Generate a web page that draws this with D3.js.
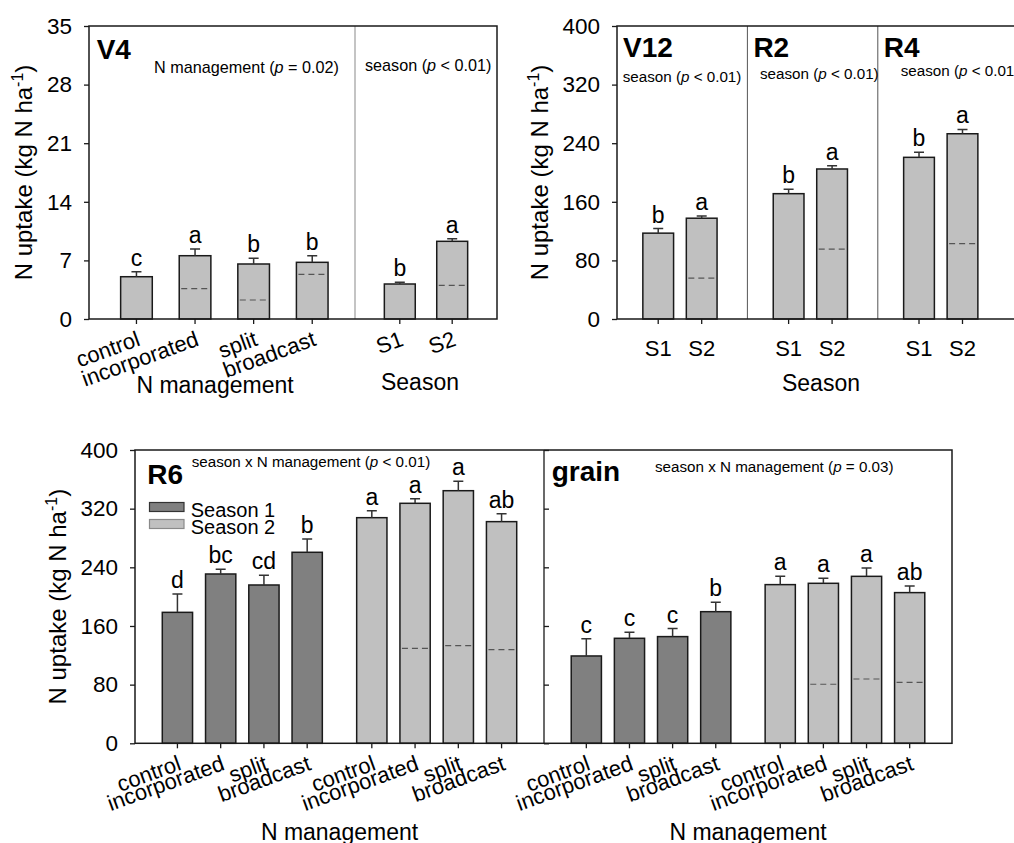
<!DOCTYPE html>
<html>
<head>
<meta charset="utf-8">
<script src="https://cdn.jsdelivr.net/npm/d3@7"></script>
<style>
  body { margin: 0; background: #fff; }
  svg { display: block; font-family: "Liberation Sans", Arial, sans-serif; }
</style>
</head>
<body>
<svg id="chart" width="1014" height="843"></svg>
<script>
// treatments
const mgmt = ['control', 'incorporated', 'split', 'broadcast'];
const seasons = ['S1', 'S2'];

// V4 (kg N ha-1), main effects
const v4Mgmt = [5.05, 7.56, 6.57, 6.77];
const v4MgmtErr = [0.6, 0.8, 0.68, 0.79];
const v4MgmtRef = [null, 3.62, 2.27, 5.34];
const v4MgmtLetters = ['c', 'a', 'b', 'b'];
const v4Season = [4.18, 9.28];
const v4SeasonErr = [0.2, 0.31];
const v4SeasonRef = [null, 4.02];
const v4SeasonLetters = ['b', 'a'];

// V12, R2, R4 season effect
const stages = ['V12', 'R2', 'R4'];
const stageS1 = [117.2, 171.1, 220.7];
const stageS1Err = [6.2, 6.0, 6.8];
const stageS2 = [137.6, 204.8, 252.9];
const stageS2Err = [3.1, 4.5, 5.9];
const stageS2Ref = [55.9, 95.4, 103];
const stageLetters = ['b', 'a'];

// R6, season x N management
const r6S1 = [178.6, 230.9, 215.9, 260.5];
const r6S1Err = [25, 6.4, 13.2, 18.1];
const r6S1Letters = ['d', 'bc', 'cd', 'b'];
const r6S2 = [307.7, 327.3, 344.5, 302.3];
const r6S2Err = [9.6, 6.3, 12.8, 10.9];
const r6S2Ref = [null, 129.5, 133.2, 127.7];
const r6S2Letters = ['a', 'a', 'a', 'ab'];

// grain, season x N management
const grS1 = [119.1, 143.2, 145.5, 179.5];
const grS1Err = [23.6, 8.2, 10.9, 12.8];
const grS1Letters = ['c', 'c', 'c', 'b'];
const grS2 = [216.4, 218.2, 227.7, 205.5];
const grS2Err = [11.3, 6.8, 11.4, 9];
const grS2Ref = [null, 80.5, 87.7, 83.2];
const grS2Letters = ['a', 'a', 'a', 'ab'];

const v4Ticks = [0, 7, 14, 21, 28, 35];
const bigTicks = [0, 80, 160, 240, 320, 400];

const S1_FILL = '#808080';
const S2_FILL = '#c0c0c0';
const none = [null, null, null, null];

const svg = d3.select('#chart');

function drawBars(g, keys, x, y, vals, errs, refs, letters, fill) {
  const d = keys.map((k, i) => ({ k, v: vals[i], e: errs[i], r: refs[i], l: letters[i] }));
  const cx = p => x(p.k) + x.bandwidth() / 2;
  g.selectAll(null).data(d).enter().append('rect')
    .attr('x', p => x(p.k))
    .attr('y', p => y(p.v))
    .attr('width', x.bandwidth())
    .attr('height', p => y(0) - y(p.v))
    .attr('fill', fill)
    .attr('stroke', '#1a1a1a')
    .attr('stroke-width', 1.5);
  g.selectAll(null).data(d.filter(p => p.r != null)).enter().append('line')
    .attr('x1', p => x(p.k) + 2)
    .attr('x2', p => x(p.k) + x.bandwidth() - 2)
    .attr('y1', p => y(p.r))
    .attr('y2', p => y(p.r))
    .attr('stroke', '#555')
    .attr('stroke-width', 1.2)
    .attr('stroke-dasharray', '6,4');
  g.selectAll(null).data(d).enter().append('path')
    .attr('d', p => `M${cx(p)},${y(p.v)}V${y(p.v + p.e)}M${cx(p) - 5},${y(p.v + p.e)}H${cx(p) + 5}`)
    .attr('fill', 'none')
    .attr('stroke', '#333')
    .attr('stroke-width', 1.5);
  g.selectAll(null).data(d).enter().append('text')
    .attr('x', cx)
    .attr('y', p => y(p.v + p.e) - 6)
    .attr('text-anchor', 'middle')
    .style('font-size', '23px')
    .text(p => p.l);
}

function yAxis(g, y, ticks, x0) {
  const ax = g.append('g')
    .attr('transform', `translate(${x0},0)`)
    .call(d3.axisLeft(y).tickValues(ticks).tickSize(5).tickPadding(12))
    .attr('font-family', null).attr('font-size', null);
  ax.select('.domain').remove();
  ax.selectAll('line').attr('stroke', '#1a1a1a').attr('stroke-width', 1.3);
  ax.selectAll('text').attr('fill', '#000').style('font-size', '22.5px');
}

// x axis with tilted labels
function xAxisTilt(g, x, y0) {
  const ax = g.append('g')
    .attr('transform', `translate(0,${y0})`)
    .call(d3.axisBottom(x).tickSize(5).tickSizeOuter(0))
    .attr('font-family', null).attr('font-size', null);
  ax.select('.domain').remove();
  ax.selectAll('line').attr('stroke', '#1a1a1a').attr('stroke-width', 1.3);
  ax.selectAll('text')
    .attr('y', 0).attr('dy', null)
    .attr('text-anchor', 'end')
    .attr('transform', 'translate(5,26) rotate(-20)')
    .attr('fill', '#000')
    .style('font-size', '22px');
}

function xAxisFlat(g, x, y0) {
  const ax = g.append('g')
    .attr('transform', `translate(0,${y0})`)
    .call(d3.axisBottom(x).tickSize(5).tickSizeOuter(0).tickPadding(16))
    .attr('font-family', null).attr('font-size', null);
  ax.select('.domain').remove();
  ax.selectAll('line').attr('stroke', '#1a1a1a').attr('stroke-width', 1.3);
  ax.selectAll('text').attr('fill', '#000').style('font-size', '22px');
}

function yTitle(x, yc) {
  const t = svg.append('text')
    .attr('transform', `translate(${x},${yc}) rotate(-90)`)
    .attr('text-anchor', 'middle')
    .style('font-size', '24px');
  t.append('tspan').text('N uptake (kg N ha');
  t.append('tspan').attr('dy', -9).style('font-size', '16px').text('-1');
  t.append('tspan').attr('dy', 9).text(')');
}

function label(x, y, txt, size, bold, anchor) {
  return svg.append('text')
    .attr('x', x).attr('y', y)
    .attr('text-anchor', anchor || 'start')
    .style('font-size', size + 'px')
    .style('font-weight', bold ? 'bold' : 'normal')
    .text(txt);
}

function stat(x, y, pre, rel, size) {
  const t = svg.append('text').attr('x', x).attr('y', y).style('font-size', (size || 15.2) + 'px');
  t.append('tspan').text(pre + ' (');
  t.append('tspan').style('font-style', 'italic').text('p');
  t.append('tspan').text(' ' + rel + ')');
}

// ---------- V4 panel ----------
const v4 = { l: 89, r: 497, t: 26, b: 319, mid: 355 };
const yV4 = d3.scaleLinear().domain([0, 35]).range([v4.b, v4.t]);
const xV4a = d3.scaleBand().domain(mgmt).range([v4.l, v4.mid]).paddingInner(0.46).paddingOuter(0.5).align(0.54);
const xV4b = d3.scaleBand().domain(seasons).range([v4.mid, v4.r]).paddingInner(0.41).paddingOuter(0.56);

svg.append('line').attr('x1', v4.mid).attr('x2', v4.mid).attr('y1', v4.t).attr('y2', v4.b)
  .attr('stroke', '#b0b0b0').attr('stroke-width', 1.5);
drawBars(svg, mgmt, xV4a, yV4, v4Mgmt, v4MgmtErr, v4MgmtRef, v4MgmtLetters, S2_FILL);
drawBars(svg, seasons, xV4b, yV4, v4Season, v4SeasonErr, v4SeasonRef, v4SeasonLetters, S2_FILL);
svg.append('rect').attr('x', v4.l).attr('y', v4.t).attr('width', v4.r - v4.l).attr('height', v4.b - v4.t)
  .attr('fill', 'none').attr('stroke', '#1a1a1a').attr('stroke-width', 1.5);
yAxis(svg, yV4, v4Ticks, v4.l);
xAxisTilt(svg, xV4a, v4.b);
xAxisTilt(svg, xV4b, v4.b);
yTitle(32, (v4.t + v4.b) / 2);
label(96.7, 59, 'V4', 28, true);
stat(154, 73, 'N management', '= 0.02', 16.2);
stat(365, 71, 'season', '< 0.01', 16.2);
label(215, 393, 'N management', 23, false, 'middle');
label(420, 390, 'Season', 23, false, 'middle');

// ---------- V12 / R2 / R4 panel ----------
const tr = { l: 617, t: 26, b: 319, w: 130.4 };
const yTR = d3.scaleLinear().domain([0, 400]).range([tr.b, tr.t]);
const xStage = d3.scaleBand().domain(stages).range([tr.l, tr.l + 3 * tr.w]);
stages.forEach((s, i) => {
  const x0 = xStage(s);
  const xs = d3.scaleBand().domain(seasons).range([x0, x0 + tr.w]).paddingInner(0.293).paddingOuter(0.646).align(0.46);
  if (i > 0) {
    svg.append('line').attr('x1', x0).attr('x2', x0).attr('y1', tr.t).attr('y2', tr.b)
      .attr('stroke', '#555').attr('stroke-width', 1);
  }
  drawBars(svg, seasons, xs, yTR, [stageS1[i], stageS2[i]], [stageS1Err[i], stageS2Err[i]],
    [null, stageS2Ref[i]], stageLetters, S2_FILL);
  xAxisFlat(svg, xs, tr.b);
  label(x0 + 6, 56.7, s, 28, true);
});
svg.append('path').attr('d', `M1016,${tr.t}H${tr.l}V${tr.b}H1016`)
  .attr('fill', 'none').attr('stroke', '#1a1a1a').attr('stroke-width', 1.5);
yAxis(svg, yTR, bigTicks, tr.l);
yTitle(548, (tr.t + tr.b) / 2);
stat(622.7, 81.7, 'season', '< 0.01');
stat(760, 79, 'season', '< 0.01');
stat(900.7, 76, 'season', '< 0.01');
label(821, 391, 'Season', 23, false, 'middle');

// ---------- R6 and grain panels ----------
const bp = { l: 135, mid: 544, r: 952, t: 450, b: 743.3 };
const yB = d3.scaleLinear().domain([0, 400]).range([bp.b, bp.t]);

function groupedPanel(x0, x1, s1, s1e, s1l, s2, s2e, s2r, s2l) {
  const xg = d3.scaleBand().domain(seasons).range([x0, x1]).paddingInner(0.11).paddingOuter(0.107);
  const xm = d3.scaleBand().domain(mgmt).range([0, xg.bandwidth()]).paddingInner(0.3).paddingOuter(0.15);
  const g1 = svg.append('g').attr('transform', `translate(${xg('S1')},0)`);
  const g2 = svg.append('g').attr('transform', `translate(${xg('S2')},0)`);
  drawBars(g1, mgmt, xm, yB, s1, s1e, none, s1l, S1_FILL);
  drawBars(g2, mgmt, xm, yB, s2, s2e, s2r, s2l, S2_FILL);
  xAxisTilt(g1, xm, bp.b);
  xAxisTilt(g2, xm, bp.b);
  label((x0 + x1) / 2, 840, 'N management', 23, false, 'middle');
}

groupedPanel(bp.l, bp.mid, r6S1, r6S1Err, r6S1Letters, r6S2, r6S2Err, r6S2Ref, r6S2Letters);
groupedPanel(bp.mid, bp.r, grS1, grS1Err, grS1Letters, grS2, grS2Err, grS2Ref, grS2Letters);

svg.append('rect').attr('x', bp.l).attr('y', bp.t).attr('width', bp.r - bp.l).attr('height', bp.b - bp.t)
  .attr('fill', 'none').attr('stroke', '#1a1a1a').attr('stroke-width', 1.5);
svg.append('line').attr('x1', bp.mid).attr('x2', bp.mid).attr('y1', bp.t).attr('y2', bp.b)
  .attr('stroke', '#1a1a1a').attr('stroke-width', 1.3);
yAxis(svg, yB, bigTicks, bp.l);
// inner ticks of the grain panel
const rt = svg.append('g').attr('transform', `translate(${bp.mid},0)`)
  .call(d3.axisRight(yB).tickValues(bigTicks).tickSize(5).tickFormat(''));
rt.select('.domain').remove();
rt.selectAll('line').attr('stroke', '#1a1a1a').attr('stroke-width', 1.3);

yTitle(66, (bp.t + bp.b) / 2);
label(147.3, 484, 'R6', 28, true);
label(551.7, 481, 'grain', 28, true);
stat(191.7, 467, 'season x N management', '< 0.01');
stat(655, 471.7, 'season x N management', '= 0.03');

// legend
const legend = [['Season 1', S1_FILL, '#333'], ['Season 2', S2_FILL, '#8a8a8a']];
legend.forEach((d, i) => {
  svg.append('rect').attr('x', 149.5).attr('y', 502.5 + i * 17).attr('width', 34.5).attr('height', 9)
    .attr('fill', d[1]).attr('stroke', d[2]).attr('stroke-width', 1.2);
  label(190.7, 517 + i * 17, d[0], 20, false);
});
</script>
</body>
</html>
